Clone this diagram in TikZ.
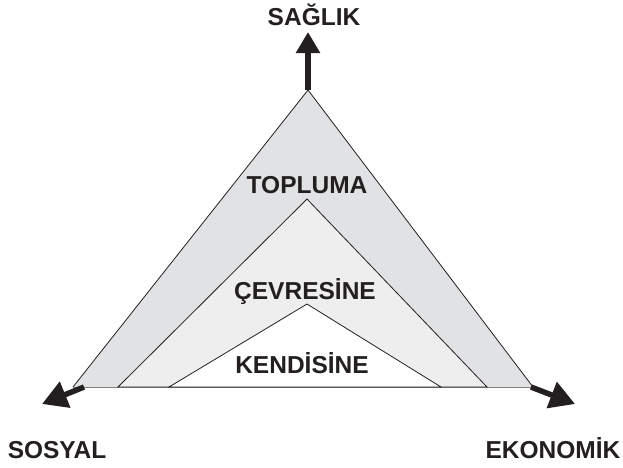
\documentclass[tikz,border=0pt]{standalone}
\usepackage{fontspec}
\setmainfont{Liberation Sans}
\usetikzlibrary{arrows.meta}
\definecolor{outerfill}{HTML}{E1E2E4}
\definecolor{midfill}{HTML}{EEEEEE}
\definecolor{ink}{HTML}{231F20}
\tikzset{
  label/.style={font=\bfseries\fontsize{24.5}{28}\selectfont, text=ink, anchor=base, inner sep=0pt},
  axis/.style={draw=ink, line width=6.5pt, -{Triangle[width=23pt,length=21pt]}},
  sideaxis/.style={draw=ink, line width=5.5pt, -{Triangle[width=27pt,length=25pt]}},
  edge/.style={draw=ink, line width=0.8pt, line join=miter},
}
\begin{document}
\begin{tikzpicture}[x=1pt,y=-1pt]
\useasboundingbox (0,0) rectangle (623,467);
% outer triangle
\coordinate (A1) at (308,90);
\coordinate (L1) at (73,387);
\coordinate (R1) at (533,387);
% middle triangle
\coordinate (A2) at (307,199);
\coordinate (L2) at (118,387);
\coordinate (R2) at (487,387);
% inner triangle
\coordinate (A3) at (307,304);
\coordinate (L3) at (169,387);
\coordinate (R3) at (441,387);
% arrow ends
\coordinate (T1) at (308,32);
\coordinate (S0) at (84,387);
\coordinate (T2) at (42,404);
\coordinate (E0) at (531,387);
\coordinate (T3) at (575,404);

\fill[outerfill] (A1) -- (L1) -- (R1) -- cycle;
\draw[edge] (L1) -- (A1) -- (R1);
\draw[gray, line width=0.8pt] (L1) -- (R1);
\filldraw[edge, fill=midfill] (A2) -- (L2) -- (R2) -- cycle;
\filldraw[edge, fill=white] (A3) -- (L3) -- (R3) -- cycle;

\draw[axis] (A1) -- (T1);
\draw[sideaxis] (S0) -- (T2);
\draw[sideaxis] (E0) -- (T3);

\node[label] (saglik) at (314,25) {SAĞLIK};
\node[label] (topluma) at (307,193) {TOPLUMA};
\node[label] (cevresine) at (305,299) {ÇEVRESİNE};
\node[label] (kendisine) at (302,373) {KENDİSİNE};
\node[label] (sosyal) at (57,458) {SOSYAL};
\node[label] (ekonomik) at (553,458) {EKONOMİK};
\end{tikzpicture}
\end{document}
